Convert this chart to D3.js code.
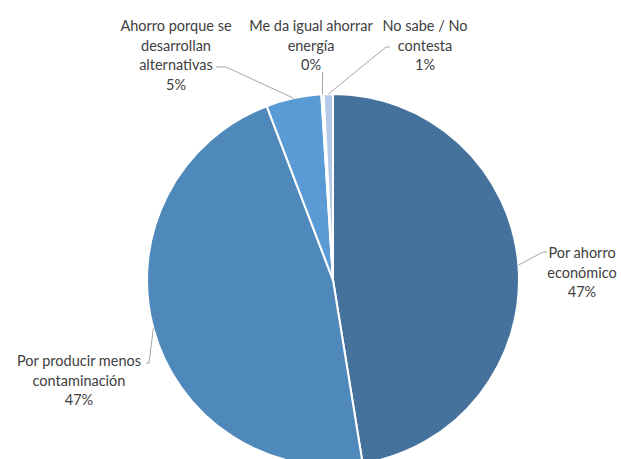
<!DOCTYPE html>
<head>
  <meta charset="utf-8">
  <style>
    body { margin: 0; background: #fff; }
    svg { display: block; }
    text { font-family: "Lato", "Open Sans", sans-serif; font-size: 14.5px; fill: #404040; }
  </style>
</head>
<svg width="621" height="459"></svg>
<script src="https://d3js.org/d3.v7.min.js"></script>
<script>
  // data
  const categories = ["Por ahorro económico", "Por producir menos contaminación",
    "Ahorro porque se desarrollan alternativas", "Me da igual ahorrar energía", "No sabe / No contesta"];
  const values = [47.45, 46.75, 4.8, 0.2, 0.8];
  const labelLines = [
    ["Por ahorro", "económico"],
    ["Por producir menos", "contaminación"],
    ["Ahorro porque se", "desarrollan", "alternativas"],
    ["Me da igual ahorrar", "energía"],
    ["No sabe / No", "contesta"]
  ];
  const colors = ["#44729d", "#4f89bc", "#5b9bd5", "#a9c5e8", "#b4c9e8"];

  // label layout: centre x, first line y, leader elbow points
  const layout = [
    { x: 582, y: 252, elbow: [[547, 252], [543, 252]] },
    { x: 79, y: 360, elbow: [[146, 363], [149, 363]] },
    { x: 176, y: 25, elbow: [[216, 67], [226, 67]] },
    { x: 311, y: 25, elbow: [[322.5, 72]] },
    { x: 425, y: 25, elbow: [[390, 47], [386, 47]] }
  ];

  const cx = 333, cy = 280, r = 186, lineH = 19.5;

  const svg = d3.select("svg");
  const data = categories.map((c, i) => ({ name: c, value: values[i], i: i }));

  const pie = d3.pie().sort(null).value(d => d.value);
  const arcs = pie(data);
  const arc = d3.arc().innerRadius(0).outerRadius(r);

  const g = svg.append("g").attr("transform", `translate(${cx},${cy})`);

  g.selectAll("path.slice")
    .data(arcs)
    .enter().append("path")
    .attr("class", "slice")
    .attr("d", arc)
    .attr("fill", d => colors[d.index])
    .attr("stroke", "#fff")
    .attr("stroke-width", 2)
    .attr("stroke-linejoin", "round");

  // leader lines: from label elbow to outer edge at slice middle
  arcs.forEach(function(d, i) {
    const mid = (d.startAngle + d.endAngle) / 2;
    const px = cx + r * Math.sin(mid), py = cy - r * Math.cos(mid);
    const pts = layout[i].elbow.concat([[px, py]]);
    svg.append("path")
      .attr("d", d3.line()(pts))
      .attr("fill", "none")
      .attr("stroke", "#a6a6a6")
      .attr("stroke-width", 1);
  });

  // labels
  arcs.forEach(function(d, i) {
    const lines = labelLines[i].concat([Math.round(d.data.value) + "%"]);
    const t = svg.append("text")
      .attr("text-anchor", "middle")
      .attr("dominant-baseline", "central");
    lines.forEach(function(l, k) {
      t.append("tspan")
        .attr("x", layout[i].x)
        .attr("y", layout[i].y + k * lineH)
        .text(l);
    });
  });
</script>
